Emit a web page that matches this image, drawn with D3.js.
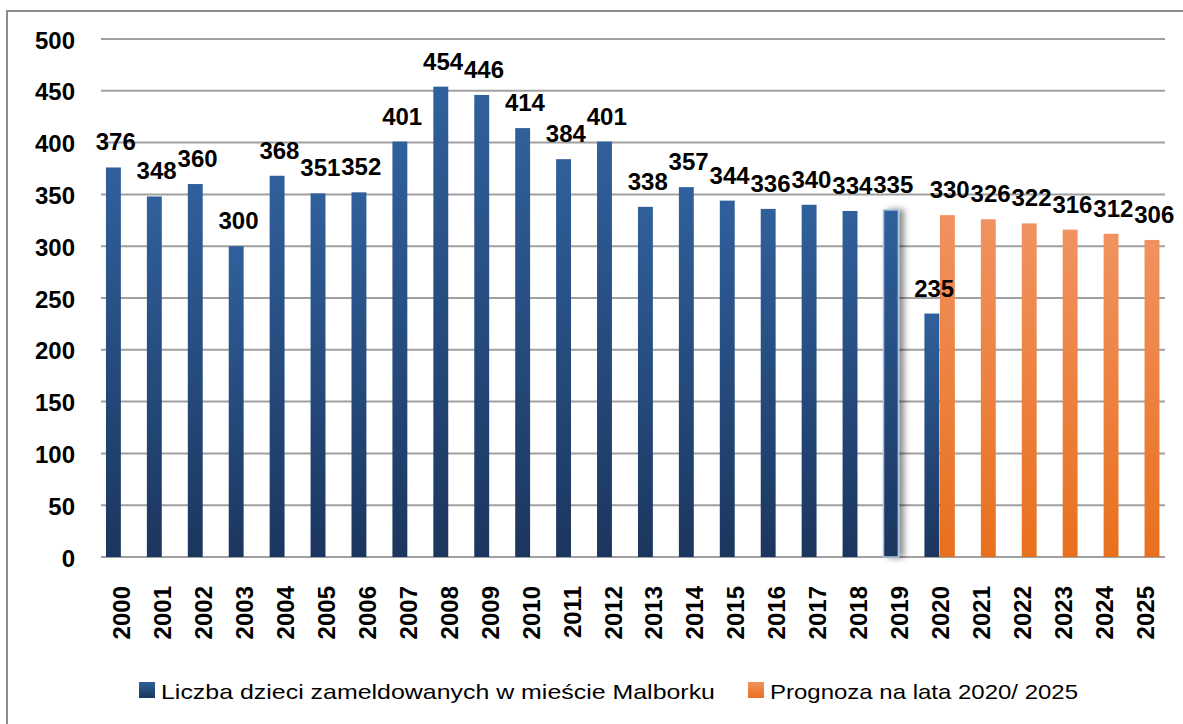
<!DOCTYPE html>
<html>
<head>
<meta charset="utf-8">
<script src="https://cdn.jsdelivr.net/npm/d3@7"></script>
<style>
  body { margin: 0; background: #fff; }
  svg { display: block; font-family: "Liberation Sans", Arial, sans-serif; }
</style>
</head>
<body>
<svg id="chart" width="1183" height="724"></svg>
<script>
const years = ["2000","2001","2002","2003","2004","2005","2006","2007","2008","2009","2010","2011","2012",
               "2013","2014","2015","2016","2017","2018","2019","2020","2021","2022","2023","2024","2025"];
// registered children, 2000-2020
const registered = [376, 348, 360, 300, 368, 351, 352, 401, 454, 446, 414, 384, 401,
                    338, 357, 344, 336, 340, 334, 335, 235, null, null, null, null, null];
// forecast 2020-2025
const forecast = [null, null, null, null, null, null, null, null, null, null, null, null, null,
                  null, null, null, null, null, null, null, 330, 326, 322, 316, 312, 306];
const yTicks = [0, 50, 100, 150, 200, 250, 300, 350, 400, 450, 500];
const seriesNames = ["Liczba dzieci zameldowanych w mieście Malborku", "Prognoza na lata 2020/ 2025"];
const highlightYear = "2019";

const svg = d3.select("#chart");

// outer frame
svg.append("rect")
  .attr("x", 7).attr("y", 11)
  .attr("width", 1300).attr("height", 900)
  .attr("fill", "none").attr("stroke", "#8c8c8c").attr("stroke-width", 2);

const defs = svg.append("defs");
function addGradient(id, topColor, bottomColor) {
  let gr = defs.append("linearGradient").attr("id", id)
    .attr("x1", 0).attr("y1", 0).attr("x2", 0).attr("y2", 1);
  gr.append("stop").attr("offset", "0%").attr("stop-color", topColor);
  gr.append("stop").attr("offset", "100%").attr("stop-color", bottomColor);
}
addGradient("gBlue", "#30609c", "#1b365e");
addGradient("gOrange", "#f19260", "#e8701d");

let shadow = defs.append("filter").attr("id", "shadow")
  .attr("x", "-50%").attr("y", "-5%").attr("width", "250%").attr("height", "110%");
shadow.append("feDropShadow").attr("dx", 5).attr("dy", 0).attr("stdDeviation", 3)
  .attr("flood-color", "#000").attr("flood-opacity", 0.45);

const plotLeft = 101, plotRight = 1165, plotTop = 39, plotBottom = 557;

const x = d3.scaleBand().domain(years).range([plotLeft, plotRight]).padding(0);
const y = d3.scaleLinear().domain([0, 500]).range([plotBottom, plotTop]);
const sub = d3.scaleBand().domain(["a", "b"]).range([0, x.bandwidth()]).paddingInner(0).paddingOuter(0.32);

// gridlines
svg.append("g")
  .selectAll("line")
  .data(yTicks)
  .enter().append("line")
  .attr("x1", plotLeft).attr("x2", plotRight)
  .attr("y1", d => y(d)).attr("y2", d => y(d))
  .attr("stroke", "#a0a0a0").attr("stroke-width", 2);

// y axis labels
svg.append("g")
  .selectAll("text")
  .data(yTicks)
  .enter().append("text")
  .attr("x", 75)
  .attr("y", d => y(d))
  .attr("dy", "0.4em")
  .attr("text-anchor", "end")
  .style("font-size", "24px").style("font-weight", "bold")
  .text(d => d);

// x axis labels, rotated
svg.append("g")
  .selectAll("text")
  .data(years)
  .enter().append("text")
  .attr("transform", d => "translate(" + (x(d) + x.bandwidth() / 2 + 9) + ",586) rotate(-90)")
  .attr("text-anchor", "end")
  .style("font-size", "24px").style("font-weight", "bold")
  .text(d => d);

function drawSeries(values, slot, fill) {
  let rows = years.map((yr, i) => ({ year: yr, value: values[i] })).filter(d => d.value != null);
  let g = svg.append("g");
  g.selectAll("rect")
    .data(rows)
    .enter().append("rect")
    .attr("x", d => x(d.year) + sub(slot))
    .attr("y", d => y(d.value))
    .attr("width", sub.bandwidth() - 0.6)
    .attr("height", d => plotBottom - y(d.value))
    .attr("fill", fill)
    .attr("stroke", d => (slot === "a" && d.year === highlightYear) ? "#a9c3e3" : "none")
    .attr("stroke-width", 1.5)
    .attr("filter", d => (slot === "a" && d.year === highlightYear) ? "url(#shadow)" : null);
  return rows;
}

const blueRows = drawSeries(registered, "a", "url(#gBlue)");
const orangeRows = drawSeries(forecast, "b", "url(#gOrange)");

// value labels
function drawLabels(rows, slot) {
  svg.append("g")
    .selectAll("text")
    .data(rows)
    .enter().append("text")
    .attr("x", d => x(d.year) + sub(slot) + sub.bandwidth() / 2 + 2)
    .attr("y", d => y(d.value) - 17)
    .attr("text-anchor", "middle")
    .style("font-size", "24px").style("font-weight", "bold")
    .text(d => d.value);
}
drawLabels(blueRows, "a");
drawLabels(orangeRows, "b");

// legend
const legend = [
  { name: seriesNames[0], fill: "url(#gBlue)", x: 139, len: 554 },
  { name: seriesNames[1], fill: "url(#gOrange)", x: 748, len: 308 }
];
let lg = svg.append("g").selectAll("g").data(legend).enter().append("g");
lg.append("rect")
  .attr("x", d => d.x).attr("y", 682)
  .attr("width", 16).attr("height", 16)
  .attr("fill", d => d.fill);
lg.append("text")
  .attr("x", d => d.x + 22).attr("y", 699)
  .attr("textLength", d => d.len)
  .attr("lengthAdjust", "spacingAndGlyphs")
  .style("font-size", "21px")
  .text(d => d.name);
</script>
</body>
</html>
